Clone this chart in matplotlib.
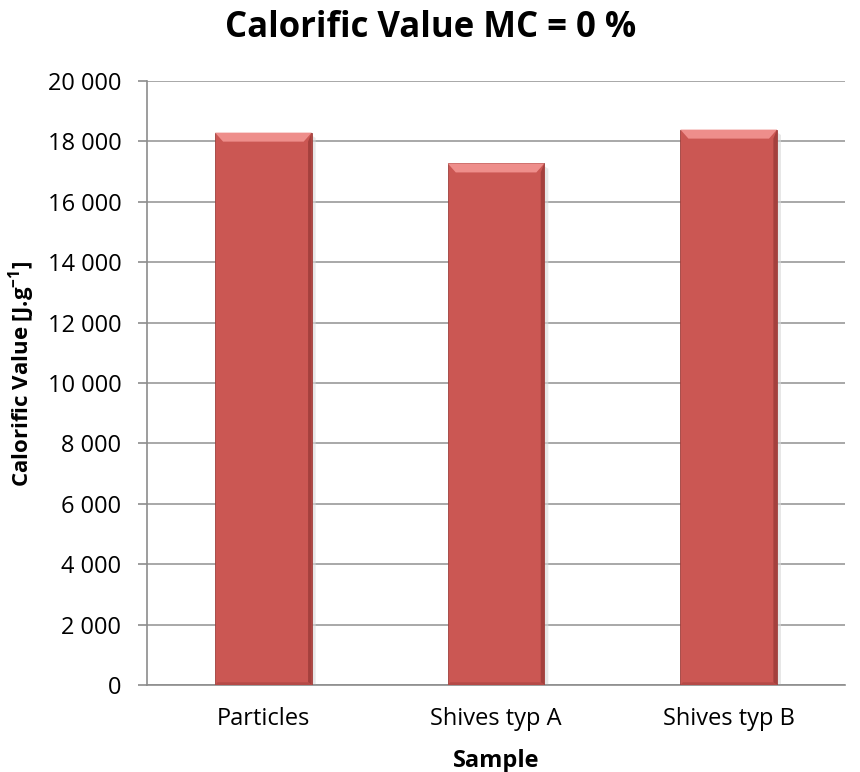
import matplotlib.pyplot as plt
from matplotlib.patches import Polygon
from matplotlib.ticker import FuncFormatter

samples = ["Particles", "Shives typ A", "Shives typ B"]
calorific = [18290, 17270, 18390]

plt.rcParams["font.family"] = ["Open Sans", "DejaVu Sans"]
plt.rcParams["mathtext.fontset"] = "custom"
plt.rcParams["mathtext.rm"] = "Open Sans:bold"
plt.rcParams["mathtext.bf"] = "Open Sans:bold"

fig = plt.figure(figsize=(8.6, 7.72), dpi=100)
ax = fig.add_axes([0.171, 0.1127, 0.8116, 0.7824])

x = range(len(samples))
width = 0.415
bars = ax.bar(x, calorific, width=width, color="#CB5753", edgecolor="#9E3F3C",
              linewidth=0.6, zorder=3)

ax.set_xlim(-0.5, 2.5)
ax.set_ylim(0, 20000)
ax.set_yticks(range(0, 20001, 2000))
ax.yaxis.set_major_formatter(FuncFormatter(lambda v, p: f"{int(v):,}".replace(",", " ")))
ax.set_xticks(list(x))
ax.set_xticklabels(samples)
ax.grid(axis="y", color="#9A9A9A", linewidth=1.2, zorder=0)
for s in ["top", "right"]:
    ax.spines[s].set_visible(False)
for s in ["left", "bottom"]:
    ax.spines[s].set_color("#8C8C8C")
    ax.spines[s].set_linewidth(1.2)
ax.tick_params(axis="y", length=6.5, width=1.2, color="#8C8C8C", labelsize=17, pad=12)
ax.tick_params(axis="x", length=0, labelsize=17, pad=16)

# bevel shading on each bar: light top edge, darker right and bottom edges
bw_px = ax.get_window_extent().width
bh_px = ax.get_window_extent().height
dx = 8 / bw_px * 3.0
dy = 9 / bh_px * 20000
for b in bars:
    x0, x1 = b.get_x(), b.get_x() + b.get_width()
    h = b.get_height()
    ax.add_patch(Polygon([(x0, h), (x1, h), (x1 - dx, h - dy), (x0 + dx, h - dy)],
                         closed=True, facecolor="#EE8E8B", edgecolor="none", zorder=4))
    ax.add_patch(Polygon([(x1, h), (x1, 0), (x1 - dx * 0.45, dy * 0.3), (x1 - dx * 0.45, h - dy)],
                         closed=True, facecolor="#A4403D", edgecolor="none", zorder=4))
    ax.add_patch(Polygon([(x0, 0), (x1, 0), (x1 - dx * 0.45, dy * 0.3), (x0 + dx * 0.3, dy * 0.3)],
                         closed=True, facecolor="#B54A47", edgecolor="none", zorder=4))
    # soft shadow to the right
    ax.add_patch(Polygon([(x1, h - dy * 0.3), (x1 + dx * 0.5, h - dy * 0.6),
                          (x1 + dx * 0.5, 0), (x1, 0)],
                         closed=True, facecolor="#D8D8D8", edgecolor="none", alpha=0.6, zorder=2))

ax.set_xlabel("Sample", fontsize=17, fontweight="bold")
ax.xaxis.set_label_coords(0.5, -0.106)
ax.set_ylabel(r"Calorific Value [J.g$^{-1}$]", fontsize=16, fontweight="bold")
ax.yaxis.set_label_coords(-0.157, 0.515)
fig.text(0.5006, 0.952, "Calorific Value MC = 0 %", fontsize=25, fontweight="bold",
         ha="center", va="baseline")

fig.savefig("out.png", dpi=100)
